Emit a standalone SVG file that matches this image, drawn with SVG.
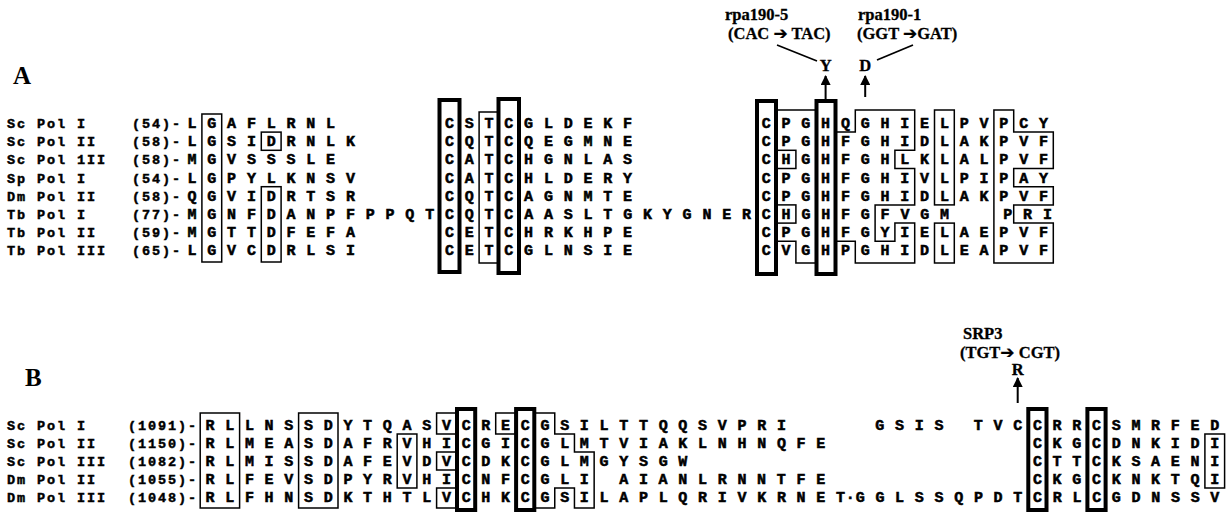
<svg xmlns="http://www.w3.org/2000/svg" width="1228" height="514" viewBox="0 0 1228 514">
<style>
.ra{font-family:"Liberation Mono",monospace;font-weight:bold;font-size:15px;letter-spacing:0.9px;fill:#000;stroke:#000;stroke-width:0.55}
.rb{font-family:"Liberation Mono",monospace;font-weight:bold;font-size:15px;letter-spacing:0.85px;fill:#000;stroke:#000;stroke-width:0.55}
.lab{font-family:"Liberation Mono",monospace;font-weight:bold;font-size:13.5px;letter-spacing:1.9px;fill:#000;stroke:#000;stroke-width:0.45}
.ann{font-family:"Liberation Serif",serif;font-weight:bold;font-size:16.5px;fill:#000;stroke:#000;stroke-width:0.3}
.big{font-family:"Liberation Serif",serif;font-weight:bold;font-size:25px;fill:#000}
.arw{font-family:"DejaVu Sans",sans-serif;font-size:17px}
.box{fill:none;stroke:#000;stroke-width:1.5}
.thick{fill:none;stroke:#000;stroke-width:4}
.ln{fill:none;stroke:#000;stroke-width:1.8}
.ar{fill:none;stroke:#000;stroke-width:2}
</style>
<defs>
<marker id="ah" viewBox="0 0 10 10" refX="9" refY="5" markerWidth="11" markerHeight="10" markerUnits="userSpaceOnUse" orient="auto"><path d="M0,0 L10,5 L0,10 z" fill="#000"/></marker>
</defs>
<rect width="1228" height="514" fill="#fff"/>

<g id="panelA">
<text class="big" x="13" y="84">A</text>
<g id="A-labels">
<text class="lab" x="7" y="128">Sc Pol I</text>
<text class="lab" x="7" y="146.2">Sc Pol II</text>
<text class="lab" x="7" y="164.4">Sc Pol 1II</text>
<text class="lab" x="7" y="182.6">Sp Pol I</text>
<text class="lab" x="7" y="200.8">Dm Pol II</text>
<text class="lab" x="7" y="219">Tb Pol I</text>
<text class="lab" x="7" y="237.2">Tb Pol II</text>
<text class="lab" x="7" y="255.4">Tb Pol III</text>
<text class="lab" x="132" y="128">(54)-</text>
<text class="lab" x="132" y="146.2">(58)-</text>
<text class="lab" x="132" y="164.4">(58)-</text>
<text class="lab" x="132" y="182.6">(54)-</text>
<text class="lab" x="132" y="200.8">(58)-</text>
<text class="lab" x="132" y="219">(77)-</text>
<text class="lab" x="132" y="237.2">(59)-</text>
<text class="lab" x="132" y="255.4">(65)-</text>
</g>
<g id="A-residues">
<text class="ra" x="187.5" y="128">L G A F L R N L</text>
<text class="ra" x="444.9" y="128">C S T C G L D E K F</text>
<text class="ra" x="761.7" y="128">C P G H Q G H I E L P V P C Y</text>
<text class="ra" x="187.5" y="146.2">L G S I D R N L K</text>
<text class="ra" x="444.9" y="146.2">C Q T C Q E G M N E</text>
<text class="ra" x="761.7" y="146.2">C P G H F G H I D L A K P V F</text>
<text class="ra" x="187.5" y="164.4">M G V S S S L E</text>
<text class="ra" x="444.9" y="164.4">C A T C H G N L A S</text>
<text class="ra" x="761.7" y="164.4">C H G H F G H L K L A L P V F</text>
<text class="ra" x="187.5" y="182.6">L G P Y L K N S V</text>
<text class="ra" x="444.9" y="182.6">C A T C H L D E R Y</text>
<text class="ra" x="761.7" y="182.6">C P G H F G H I V L P I P A Y</text>
<text class="ra" x="187.5" y="200.8">Q G V I D R T S R</text>
<text class="ra" x="444.9" y="200.8">C Q T C A G N M T E</text>
<text class="ra" x="761.7" y="200.8">C P G H F G H I D L A K P V F</text>
<text class="ra" x="187.5" y="219">M G N F D A N P F P P Q T C Q T C A A S L T G K Y G N E R C H G H F G F V G M</text>
<text class="ra" x="1003.3" y="219">P R I</text>
<text class="ra" x="187.5" y="237.2">M G T T D F E F A</text>
<text class="ra" x="444.9" y="237.2">C E T C H R K H P E</text>
<text class="ra" x="761.7" y="237.2">C P G H F G Y I E L A E P V F</text>
<text class="ra" x="187.5" y="255.4">L G V C D R L S I</text>
<text class="ra" x="444.9" y="255.4">C E T C G L N S I E</text>
<text class="ra" x="761.7" y="255.4">C V G H P G H I D L E A P V F</text>
</g>
<g id="A-boxes">
<rect class="box" x="201.9" y="114" width="19.8" height="148"/>
<rect class="box" x="261.3" y="132.1" width="19.8" height="18.2"/>
<rect class="box" x="261.3" y="186.7" width="19.8" height="75.3"/>
<rect class="thick" x="439.5" y="100" width="20" height="172"/>
<rect class="box" x="479.1" y="112" width="19.8" height="151"/>
<rect class="thick" x="498.5" y="99" width="20.5" height="174"/>
<rect class="thick" x="757" y="101" width="19" height="173"/>
<rect class="thick" x="816.5" y="101" width="19" height="173"/>
<path class="box" d="M776.1,110 H815.7 V263 H795.9 V241.3 H776.1 Z"/>
<rect class="box" x="776.1" y="150.3" width="19.8" height="18.2"/>
<rect class="box" x="776.1" y="204.9" width="19.8" height="18.2"/>
<path class="box" d="M835.5,132.1 H855.3 V110 H914.7 V150.3 H894.9 V168.5 H914.7 V204.9 H875.1 V241.3 H894.9 V223.1 H914.7 V263 H855.3 V241.3 H835.5 Z"/>
<rect class="box" x="934.5" y="110" width="19.8" height="94.9"/>
<rect class="box" x="934.5" y="223.1" width="19.8" height="39.9"/>
<path class="box" d="M993.9,110 H1013.7 V132.1 H1053.3 V168.5 H1013.7 V186.7 H1053.3 V204.9 H1013.7 V223.1 H1053.3 V263 H993.9 Z"/>
</g>
<g id="A-mutations">
<text class="ann" x="725" y="20">rpa190-5</text>
<text class="ann" x="728" y="39">(CAC <tspan class="arw">➔</tspan> TAC)</text>
<text class="ann" x="858" y="20">rpa190-1</text>
<text class="ann" x="857" y="39">(GGT <tspan class="arw">➔</tspan>GAT)</text>
<text class="ann" x="825.6" y="71" text-anchor="middle">Y</text>
<text class="ann" x="865.2" y="71" text-anchor="middle">D</text>
</g>
</g>

<g id="panelB">
<text class="big" x="25" y="386">B</text>
<g id="B-labels">
<text class="lab" x="7" y="430">Sc Pol I</text>
<text class="lab" x="7" y="448">Sc Pol II</text>
<text class="lab" x="7" y="466">Sc Pol III</text>
<text class="lab" x="7" y="484">Dm Pol II</text>
<text class="lab" x="7" y="502">Dm Pol III</text>
<text class="lab" x="128" y="430">(1091)-</text>
<text class="lab" x="128" y="448">(1150)-</text>
<text class="lab" x="128" y="466">(1082)-</text>
<text class="lab" x="128" y="484">(1055)-</text>
<text class="lab" x="128" y="502">(1048)-</text>
</g>
<g id="B-residues">
<text class="rb" x="205.5" y="430">R L L N S S D Y T Q A S V C R E C G S I L T T Q Q S V P R I</text>
<text class="rb" x="875.3" y="430">G S I S</text>
<text class="rb" x="973.8" y="430">T V C C R R C S M R F E D</text>
<text class="rb" x="205.5" y="448">R L M E A S D A F R V H I C G I C G L M T V I A K L N H N Q F E</text>
<text class="rb" x="1032.9" y="448">C K G C D N K I D I</text>
<text class="rb" x="205.5" y="466">R L M I S S D A F E V D V C D K C G L M G Y S G W</text>
<text class="rb" x="1032.9" y="466">C T T C K S A E N I</text>
<text class="rb" x="205.5" y="484">R L F E V S D P Y R V H I C N F C G L I</text>
<text class="rb" x="619.2" y="484">A I A N L R N N T F E</text>
<text class="rb" x="1032.9" y="484">C K G C K N K T Q I</text>
<text class="rb" x="205.5" y="502">R L F H N S D K T H T L V C H K C G S I L A P L Q R I V K R N E T·G G L S S Q P D T C R L C G D N S S V</text>
</g>
<g id="B-boxes">
<rect class="box" x="200.2" y="413" width="39.4" height="95"/>
<rect class="box" x="298.6" y="413" width="39.4" height="95"/>
<rect class="box" x="397.2" y="434" width="19.7" height="54"/>
<rect class="box" x="436.6" y="413" width="19.7" height="21"/>
<rect class="box" x="436.6" y="452" width="19.7" height="18"/>
<rect class="box" x="436.6" y="488" width="19.7" height="20"/>
<rect class="thick" x="457" y="409" width="18.2" height="101"/>
<rect class="box" x="495.7" y="413" width="19.7" height="21"/>
<rect class="thick" x="516.1" y="409" width="18.2" height="101"/>
<path class="box" d="M535.05,413 H554.75 V434 H574.45 V452 H594.15 V508 H574.45 V488 H554.75 V508 H535.05 Z"/>
<rect class="thick" x="1028.3" y="409" width="18.2" height="101"/>
<rect class="thick" x="1087.4" y="409" width="18.2" height="101"/>
<rect class="box" x="1204.9" y="434" width="19.7" height="54"/>
</g>
<g id="B-mutation">
<text class="ann" x="963" y="339">SRP3</text>
<text class="ann" x="960" y="358">(TGT<tspan class="arw">➔</tspan> CGT)</text>
<text class="ann" x="1017.7" y="375" text-anchor="middle">R</text>
</g>
</g>

<g id="connectors">
<line class="ln" x1="777" y1="45" x2="817" y2="61"/>
<line class="ln" x1="913" y1="45" x2="877" y2="60"/>
<line class="ar" x1="825.6" y1="99" x2="825.6" y2="76" marker-end="url(#ah)"/>
<line class="ar" x1="865.2" y1="97" x2="865.2" y2="76" marker-end="url(#ah)"/>
<line class="ar" x1="1017.7" y1="403" x2="1017.7" y2="378" marker-end="url(#ah)"/>
</g>
</svg>
